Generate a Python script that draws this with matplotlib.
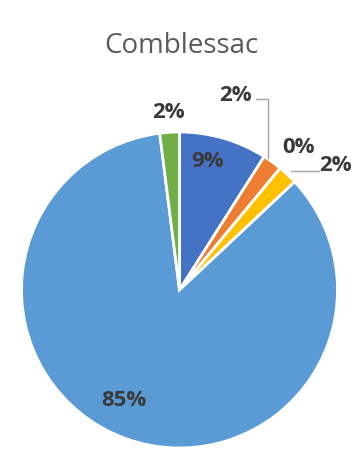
import matplotlib.pyplot as plt
import numpy as np

# Slice values (clockwise from the top), as shown on the chart
labels = ['9%', '2%', '0%', '2%', '85%', '2%']
values = [9, 2, 0, 2, 85, 2]
colors = ['#4472C4', '#ED7D31', '#A5A5A5', '#FFC000', '#5B9BD5', '#70AD47']
title = 'Comblessac'

W, H = 362, 452
cx, cy, r = 179.5, 291, 158

fig = plt.figure(figsize=(W / 100, H / 100), dpi=100)
ax = fig.add_axes([(cx - r) / W, 1 - (cy + r) / H, 2 * r / W, 2 * r / H])

wedges, _ = ax.pie(values, colors=colors, startangle=90, counterclock=False,
                   radius=1, wedgeprops=dict(edgecolor='white', linewidth=2))

# label placement: (distance, angle offset from wedge middle) per slice
label_style = [
    (0.84, 4),    # 9% inside
    (1.29, 20),   # 2% orange, with leader
    (1.18, 0),    # 0%
    (1.27, -8),   # 2% yellow, with leader
    (0.775, -7),  # 85% inside
    (1.13, 0),    # 2% green
]
txt_kw = dict(ha='center', va='center', fontsize=16, fontweight='bold',
              color='#3A3A3A', family=['Open Sans', 'DejaVu Sans'])


def mid_angle(w, offset=0):
    return np.deg2rad((w.theta1 + w.theta2) / 2 + offset)


pos = []
for i, (w, lab) in enumerate(zip(wedges, labels)):
    d, off = label_style[i]
    a = mid_angle(w, off)
    x, y = d * np.cos(a), d * np.sin(a)
    pos.append((x, y))
    ax.text(x, y, lab, **txt_kw)

# leader lines for the orange and yellow slices
a = mid_angle(wedges[1])
ox, oy = 1.0 * np.cos(a) - 0.03, 1.03 * np.sin(a)
lx, ly = pos[1]
ax.plot([lx + 0.13, ox, ox], [ly - 0.03, ly - 0.03, oy], color='#A6A6A6',
        lw=1, clip_on=False)

a = mid_angle(wedges[3])
yx, yy = 1.03 * np.cos(a), 1.03 * np.sin(a)
tx, ty = pos[3]
ax.plot([yx, tx - 0.11], [yy, yy], color='#A6A6A6', lw=1, clip_on=False)

ax.set_xlim(-1, 1)
ax.set_ylim(-1, 1)
ax.set_aspect('auto')
ax.axis('off')

fig.text(0.5, 1 - 46 / H, title, ha='center', va='center', fontsize=20,
         color='#595959', family=['Open Sans', 'DejaVu Sans'])

fig.savefig('out.png', dpi=100, facecolor='white')
